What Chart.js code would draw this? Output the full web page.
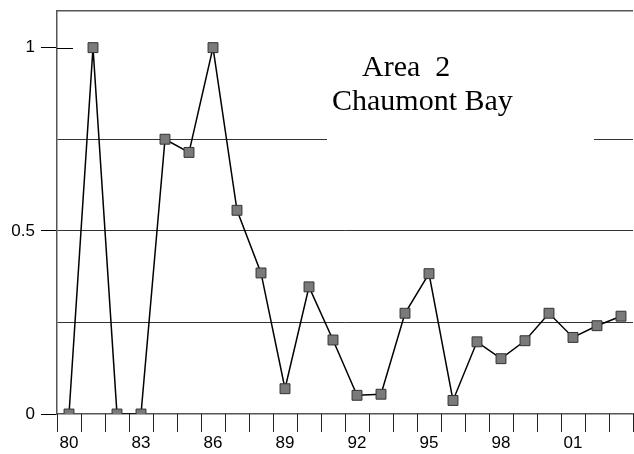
<!DOCTYPE html>
<html>
<head>
<meta charset="utf-8">
<script src="https://cdn.jsdelivr.net/npm/chart.js@4/dist/chart.umd.min.js"></script>
<style>
  html, body { margin: 0; padding: 0; background: #fff; overflow: hidden; }
  #wrap { width: 634px; height: 454px; overflow: hidden; position: relative; }
  #chart { position: absolute; left: 0; top: 0; }
</style>
</head>
<body>
<div id="wrap"><canvas id="chart" width="641" height="454"></canvas></div>
<script>
// years along the bottom (two-digit labels)
const years = ['80','81','82','83','84','85','86','87','88','89','90','91',
               '92','93','94','95','96','97','98','99','00','01','02','03'];
// index values
const values = [0, 1.0, 0, 0, 0.75, 0.714, 1.0, 0.556, 0.385, 0.069, 0.347, 0.202,
                0.051, 0.054, 0.275, 0.383, 0.037, 0.197, 0.151, 0.200, 0.275, 0.209, 0.241, 0.267];
const yLabels = [0, 0.5, 1];
const annotation = ['Area  2', 'Chaumont Bay'];

const frameColor = '#555';
const gridColor = '#333';
const clear = 'rgba(0,0,0,0)';

const extras = {
  id: 'extras',
  // frame top, short inner tick at 1, white text box over the 0.75 line
  beforeDatasetsDraw(chart) {
    const { ctx, chartArea } = chart;
    const y = chart.scales.y;
    ctx.save();
    ctx.fillStyle = '#fff';
    ctx.fillRect(327, 36, 267, 110);
    ctx.fillStyle = frameColor;
    ctx.fillRect(chartArea.left, Math.round(chartArea.top) - 1, chartArea.right - chartArea.left, 1.5);
    ctx.fillStyle = '#000';
    ctx.fillRect(chartArea.left, Math.round(y.getPixelForValue(1)), 16, 1);

    ctx.font = '30px "Liberation Serif", "Times New Roman", serif';
    ctx.textBaseline = 'alphabetic';
    ctx.textAlign = 'left';
    ctx.fillText(annotation[0], 362, 76);
    ctx.fillText(annotation[1], 332, 110);
    ctx.restore();
  },
  // tick marks below the axis at each year boundary, drawn last as thin filled bars
  afterDraw(chart) {
    const { ctx, chartArea } = chart;
    const x = chart.scales.x;
    const step = x.getPixelForValue(1) - x.getPixelForValue(0);
    const first = x.getPixelForValue(0) - step / 2;
    const top = Math.round(chartArea.bottom);
    ctx.save();
    ctx.globalCompositeOperation = 'source-over';
    ctx.globalAlpha = 1;
    ctx.fillStyle = '#222';
    for (let i = 0; i <= years.length; i++) {
      const px = Math.round(first + i * step);
      ctx.fillRect(px, top, 1, 18);
    }
    ctx.restore();
  }
};

new Chart(document.getElementById('chart'), {
  type: 'line',
  data: {
    labels: years,
    datasets: [{
      data: values,
      borderColor: '#000',
      borderWidth: 1.5,
      tension: 0,
      pointStyle: 'rect',
      pointRadius: 7,
      pointBackgroundColor: '#7a7a7a',
      pointBorderColor: '#333',
      pointBorderWidth: 1
    }]
  },
  options: {
    responsive: false,
    animation: false,
    layout: { padding: { top: 11, right: 0, left: 0, bottom: 0 } },
    plugins: { legend: { display: false }, tooltip: { enabled: false } },
    scales: {
      x: {
        type: 'category',
        offset: true,
        afterFit(s) { s.height = 40; s.paddingLeft = 0; s.paddingRight = 0; },
        border: { display: true, color: frameColor, width: 1.5 },
        grid: {
          display: true,
          offset: true,
          drawOnChartArea: false,
          drawTicks: true,
          tickLength: 18,
          color: '#222',
          tickColor: '#222',
          tickWidth: 1
        },
        ticks: {
          autoSkip: false,
          maxRotation: 0,
          padding: 1,
          color: '#000',
          font: { family: '"Liberation Sans", Arial, sans-serif', size: 17 },
          callback(v, i) { return i % 3 === 0 ? years[i] : ''; }
        }
      },
      y: {
        min: 0,
        max: 1.1,
        afterFit(s) { s.width = 57; s.paddingTop = 0; s.paddingBottom = 0; },
        afterBuildTicks(s) { s.ticks = [0, 0.25, 0.5, 0.75, 1].map(v => ({ value: v })); },
        border: { display: true, color: frameColor, width: 1.5 },
        grid: {
          drawTicks: true,
          tickLength: 16,
          color(c) {
            const v = c.tick ? c.tick.value : null;
            return (v === 0.25 || v === 0.5 || v === 0.75) ? gridColor : clear;
          },
          tickColor(c) {
            const v = c.tick ? c.tick.value : null;
            return yLabels.includes(v) ? '#000' : clear;
          }
        },
        ticks: {
          padding: 6,
          color: '#000',
          font: { family: '"Liberation Sans", Arial, sans-serif', size: 17 },
          callback(v) { return yLabels.includes(v) ? String(v) : ''; }
        }
      }
    }
  },
  plugins: [extras]
});
</script>
</body>
</html>
